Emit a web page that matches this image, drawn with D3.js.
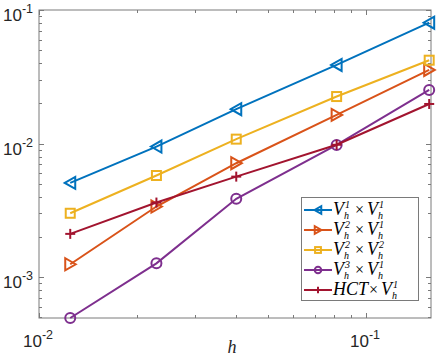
<!DOCTYPE html>
<html>
<head>
<meta charset="utf-8">
<script src="https://cdn.jsdelivr.net/npm/d3@7/dist/d3.min.js"></script>
<style>
  body { margin: 0; background: #fff; }
  svg { display: block; }
</style>
</head>
<body>
<div id="chart"></div>
<script>

// mesh sizes h (x values)
var hValues = [0.01246, 0.02286, 0.0401, 0.0813, 0.156];

// error values per element pair
var errV1V1 = [0.00508, 0.0095, 0.0181, 0.0388, 0.0804];
var errV2V1 = [0.00125, 0.00338, 0.00713, 0.0164, 0.0356];
var errV2V2 = [0.00301, 0.00577, 0.0108, 0.0225, 0.0421];
var errV3V1 = [0.000495, 0.00127, 0.00386, 0.00977, 0.0252];
var errHCT  = [0.00211, 0.00362, 0.00566, 0.0098, 0.0198];

var xTickExps = [-2, -1];
var yTickExps = [-3, -2, -1];

var series = [
    {values: errV1V1, color: "#0072BD", marker: "left",   sup: "1", sup2: "1"},
    {values: errV2V1, color: "#D95319", marker: "right",  sup: "2", sup2: "1"},
    {values: errV2V2, color: "#EDB120", marker: "square", sup: "2", sup2: "2"},
    {values: errV3V1, color: "#7E2F8E", marker: "circle", sup: "3", sup2: "1"},
    {values: errHCT,  color: "#A2142F", marker: "plus",   sup: null, sup2: "1"}
];

var c = {
    width: 440,
    height: 358,
    left: 39, right: 431, top: 10, bottom: 318
};

var svg = d3.select("#chart").append("svg")
    .attr("width", c.width)
    .attr("height", c.height);

var x = d3.scaleLog()
    .domain([0.01, 0.158])
    .range([c.left, c.right]);

var y = d3.scaleLog()
    .domain([0.000495, 0.1])
    .range([c.bottom, c.top]);

var axisColor = "#7a7a7a";
var serif = "Liberation Serif, Times New Roman, serif";

//box
svg.append("rect")
    .attr("x", c.left).attr("y", c.top)
    .attr("width", c.right - c.left).attr("height", c.bottom - c.top)
    .attr("fill", "none")
    .attr("stroke", axisColor)
    .attr("stroke-width", 1);

//ticks (inward, on all four sides)
function logTicks(scale) {
    var d = scale.domain(), out = [];
    for (var e = -5; e <= 1; e++) {
        for (var m = 1; m <= 9; m++) {
            var v = m * Math.pow(10, e);
            if (v >= d[0] * 0.999 && v <= d[1] * 1.001) out.push({v: v, major: m === 1});
        }
    }
    return out;
}

var ticks = svg.append("g").attr("stroke", axisColor).attr("stroke-width", 1);

logTicks(x).forEach(function (t) {
    var len = t.major ? 5 : 3;
    var px = Math.round(x(t.v)) + 0.5;
    ticks.append("line").attr("x1", px).attr("x2", px).attr("y1", c.bottom).attr("y2", c.bottom - len);
    ticks.append("line").attr("x1", px).attr("x2", px).attr("y1", c.top).attr("y2", c.top + len);
});

logTicks(y).forEach(function (t) {
    var len = t.major ? 5 : 3;
    var py = Math.round(y(t.v)) + 0.5;
    ticks.append("line").attr("y1", py).attr("y2", py).attr("x1", c.left).attr("x2", c.left + len);
    ticks.append("line").attr("y1", py).attr("y2", py).attr("x1", c.right).attr("x2", c.right - len);
});

//tick labels 10^n
function powLabel(g, e, px, py, anchor) {
    var t = g.append("text")
        .attr("x", px).attr("y", py)
        .attr("text-anchor", anchor)
        .attr("font-family", "Liberation Sans, Arial, sans-serif")
        .attr("font-size", 17)
        .attr("fill", "#262626");
    t.append("tspan").text("10");
    t.append("tspan").attr("font-size", 12.5).attr("dy", -8).text(e < 0 ? "-" + (-e) : e);
}

var labels = svg.append("g");
xTickExps.forEach(function (e) {
    powLabel(labels, e, x(Math.pow(10, e)) - 1, 347, "middle");
});
yTickExps.forEach(function (e) {
    powLabel(labels, e, 33, y(Math.pow(10, e)) + 11, "end");
});

svg.append("text")
    .attr("x", 232).attr("y", 353)
    .attr("text-anchor", "middle")
    .attr("font-family", serif)
    .attr("font-style", "italic")
    .attr("font-size", 18)
    .attr("fill", "#262626")
    .text("h");

//markers
function drawMarker(g, type, cx, cy, color, s) {
    var p;
    if (type === "left") {
        p = [[cx - 5.5 * s, cy], [cx + 5 * s, cy - 6 * s], [cx + 5 * s, cy + 6 * s]];
        g.append("polygon").attr("points", p.join(" "));
    } else if (type === "right") {
        p = [[cx + 5.5 * s, cy], [cx - 5 * s, cy - 6 * s], [cx - 5 * s, cy + 6 * s]];
        g.append("polygon").attr("points", p.join(" "));
    } else if (type === "square") {
        g.append("rect").attr("x", cx - 4.5 * s).attr("y", cy - 4.5 * s)
            .attr("width", 9 * s).attr("height", 9 * s);
    } else if (type === "circle") {
        g.append("circle").attr("cx", cx).attr("cy", cy).attr("r", 5 * s);
    } else if (type === "plus") {
        g.append("line").attr("x1", cx - 5 * s).attr("x2", cx + 5 * s).attr("y1", cy).attr("y2", cy);
        g.append("line").attr("x1", cx).attr("x2", cx).attr("y1", cy - 5 * s).attr("y2", cy + 5 * s);
    }
}

var line = d3.line()
    .x(function (d) { return x(d[0]); })
    .y(function (d) { return y(d[1]); });

series.forEach(function (s) {
    var pts = hValues.map(function (h, i) { return [h, s.values[i]]; });
    var g = svg.append("g")
        .attr("stroke", s.color)
        .attr("stroke-width", 2)
        .attr("fill", "none");
    g.append("path").attr("d", line(pts));
    pts.forEach(function (p) {
        drawMarker(g, s.marker, x(p[0]), y(p[1]), s.color, 1);
    });
});

//legend
var legend = svg.append("g");
legend.append("rect")
    .attr("x", 301.5).attr("y", 197.5)
    .attr("width", 117).attr("height", 103)
    .attr("fill", "#fff")
    .attr("stroke", axisColor)
    .attr("stroke-width", 1);

// V with stacked super/subscript, returns the x where it ends
function vTerm(g, px, py, sup) {
    g.append("text").attr("x", px).attr("y", py)
        .attr("font-family", serif).attr("font-style", "italic")
        .attr("font-size", 18).text("V");
    g.append("text").attr("x", px + 12).attr("y", py - 7)
        .attr("font-family", serif).attr("font-style", "italic")
        .attr("font-size", 10).text(sup);
    g.append("text").attr("x", px + 11).attr("y", py + 3.5)
        .attr("font-family", serif).attr("font-style", "italic")
        .attr("font-size", 10).text("h");
    return px + 19;
}

series.forEach(function (s, i) {
    var ly = 210 + i * 20;
    var g = legend.append("g")
        .attr("stroke", s.color)
        .attr("stroke-width", 2)
        .attr("fill", "none");
    g.append("line").attr("x1", 304).attr("x2", 332).attr("y1", ly).attr("y2", ly);
    drawMarker(g, s.marker, 318, ly, s.color, 0.65);

    var t = legend.append("g").attr("fill", "#000");
    var px = 333, base = ly + 5;
    if (s.sup) {
        px = vTerm(t, px, base, s.sup);
    } else {
        t.append("text").attr("x", px).attr("y", base)
            .attr("font-family", serif).attr("font-style", "italic")
            .attr("font-size", 18).text("HCT");
        px += 33;
    }
    t.append("text").attr("x", px + 3).attr("y", base)
        .attr("font-family", serif).attr("font-size", 16).text("\u00d7");
    vTerm(t, px + 15, base, s.sup2);
});

</script>
</body>
</html>
